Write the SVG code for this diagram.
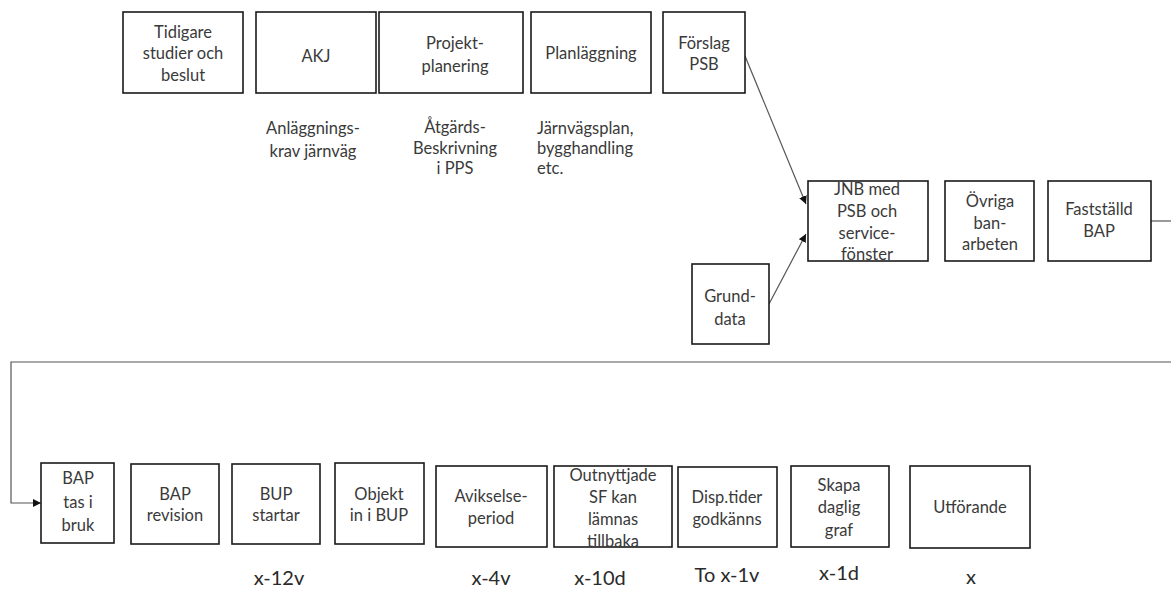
<svg xmlns="http://www.w3.org/2000/svg" width="1171" height="596" viewBox="0 0 1171 596">
<style>
  .box { fill: #ffffff; stroke: #1a1a1a; stroke-width: 1.6; }
  .t { font-family: Lato, "Liberation Sans", sans-serif; font-size: 16.5px; fill: #3a3a3a; text-anchor: middle; }
  .tl { font-family: Lato, "Liberation Sans", sans-serif; font-size: 16.5px; fill: #3a3a3a; text-anchor: start; }
  .lbl { font-family: Lato, "Liberation Sans", sans-serif; font-size: 20px; fill: #2a2a2a; text-anchor: middle; }
  .conn { fill: none; stroke: #555555; stroke-width: 1.2; }
</style>
<defs>
  <marker id="arr" viewBox="0 0 10 10" refX="10" refY="5" markerWidth="8" markerHeight="8" markerUnits="userSpaceOnUse" orient="auto">
    <path d="M0,0 L10,5 L0,10 z" fill="#111111"/>
  </marker>
</defs>
<rect width="1171" height="596" fill="#ffffff"/>

<g id="connectors">
  <line class="conn" x1="745" y1="56" x2="806" y2="204" marker-end="url(#arr)"/>
  <line class="conn" x1="769" y1="304" x2="806" y2="234" marker-end="url(#arr)"/>
  <line class="conn" x1="1151" y1="221" x2="1171" y2="221"/>
  <polyline class="conn" points="1171,362 11,362 11,503 41,503" marker-end="url(#arr)"/>
</g>

<g id="n-tidigare"><rect class="box" x="123" y="12" width="120" height="81"/>
  <text class="t" x="183" y="38">Tidigare</text><text class="t" x="183" y="59">studier och</text><text class="t" x="183" y="81">beslut</text></g>
<g id="n-akj"><rect class="box" x="256" y="12" width="120" height="81"/>
  <text class="t" x="316" y="62">AKJ</text></g>
<g id="n-projekt"><rect class="box" x="379" y="12" width="144" height="81"/>
  <text class="t" x="455" y="49">Projekt-</text><text class="t" x="455" y="72">planering</text></g>
<g id="n-plan"><rect class="box" x="531" y="12" width="120" height="81"/>
  <text class="t" x="591" y="59">Planläggning</text></g>
<g id="n-forslag"><rect class="box" x="663" y="12" width="82" height="81"/>
  <text class="t" x="704" y="49">Förslag</text><text class="t" x="704" y="70">PSB</text></g>

<g id="l-akj"><text class="t" x="313" y="134">Anläggnings-</text><text class="t" x="313" y="157">krav järnväg</text></g>
<g id="l-projekt"><text class="t" x="455" y="133">Åtgärds-</text><text class="t" x="455" y="154">Beskrivning</text><text class="t" x="455" y="174">i PPS</text></g>
<g id="l-plan"><text class="tl" x="537" y="134">Järnvägsplan,</text><text class="tl" x="537" y="154">bygghandling</text><text class="tl" x="537" y="174">etc.</text></g>

<g id="n-jnb"><rect class="box" x="808" y="181" width="120" height="80"/>
  <text class="t" x="867" y="195">JNB med</text><text class="t" x="867" y="217">PSB och</text><text class="t" x="867" y="239">service-</text><text class="t" x="867" y="260">fönster</text></g>
<g id="n-ovriga"><rect class="box" x="945" y="181" width="89" height="80"/>
  <text class="t" x="990" y="207">Övriga</text><text class="t" x="990" y="229">ban-</text><text class="t" x="990" y="250">arbeten</text></g>
<g id="n-faststalld"><rect class="box" x="1048" y="181" width="103" height="80"/>
  <text class="t" x="1099" y="215">Fastställd</text><text class="t" x="1099" y="237">BAP</text></g>
<g id="n-grunddata"><rect class="box" x="692" y="264" width="77" height="80"/>
  <text class="t" x="730" y="302">Grund-</text><text class="t" x="730" y="325">data</text></g>

<g id="n-baptas"><rect class="box" x="41" y="463" width="73" height="80"/>
  <text class="t" x="78" y="484">BAP</text><text class="t" x="78" y="508">tas i</text><text class="t" x="78" y="531">bruk</text></g>
<g id="n-baprev"><rect class="box" x="131" y="464" width="88" height="80"/>
  <text class="t" x="175" y="500">BAP</text><text class="t" x="175" y="521">revision</text></g>
<g id="n-bup"><rect class="box" x="232" y="464" width="88" height="80"/>
  <text class="t" x="276" y="500">BUP</text><text class="t" x="276" y="521">startar</text></g>
<g id="n-objekt"><rect class="box" x="335" y="463" width="89" height="81"/>
  <text class="t" x="379" y="500">Objekt</text><text class="t" x="379" y="521">in i BUP</text></g>
<g id="n-avik"><rect class="box" x="436" y="466" width="111" height="81"/>
  <text class="t" x="491" y="502">Avikselse-</text><text class="t" x="491" y="524">period</text></g>
<g id="n-outnytt"><rect class="box" x="554" y="466" width="118" height="81"/>
  <text class="t" x="613" y="481">Outnyttjade</text><text class="t" x="613" y="503">SF kan</text><text class="t" x="613" y="525">lämnas</text><text class="t" x="613" y="547">tillbaka</text></g>
<g id="n-disp"><rect class="box" x="678" y="467" width="99" height="80"/>
  <text class="t" x="727" y="503">Disp.tider</text><text class="t" x="727" y="525">godkänns</text></g>
<g id="n-skapa"><rect class="box" x="791" y="466" width="98" height="81"/>
  <text class="t" x="839" y="491">Skapa</text><text class="t" x="839" y="513">daglig</text><text class="t" x="839" y="536">graf</text></g>
<g id="n-utf"><rect class="box" x="910" y="466" width="120" height="82"/>
  <text class="t" x="970" y="513">Utförande</text></g>

<g id="labels">
  <text class="lbl" x="279" y="585">x-12v</text>
  <text class="lbl" x="491" y="585">x-4v</text>
  <text class="lbl" x="600" y="585">x-10d</text>
  <text class="lbl" x="727" y="582">To x-1v</text>
  <text class="lbl" x="839" y="580">x-1d</text>
  <text class="lbl" x="971" y="584">x</text>
</g>
</svg>
